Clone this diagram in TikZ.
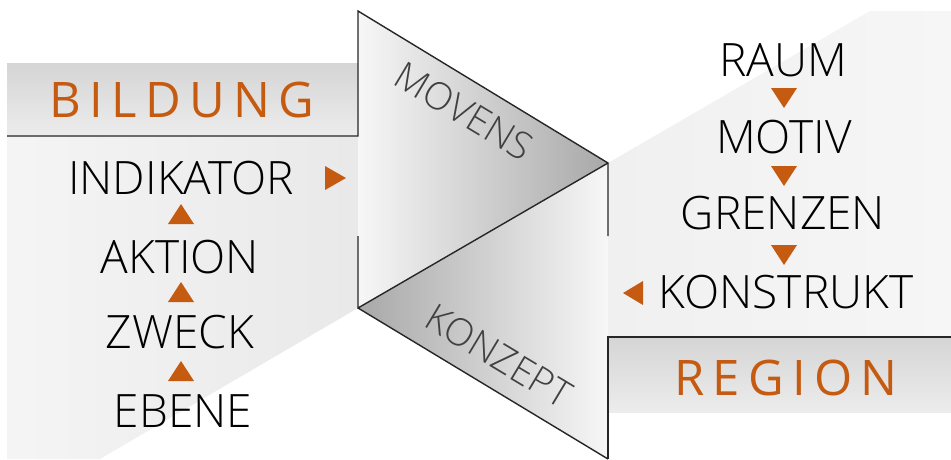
\documentclass[tikz,border=0pt]{standalone}
\usepackage{fontspec}
\setmainfont{Open Sans}
\newfontfamily\lightfont{Open Sans Light}
\newfontfamily\spacedfont[LetterSpace=17]{Open Sans}
\definecolor{accent}{HTML}{C55A11}
\definecolor{panel}{HTML}{F0F0F0}
\definecolor{headbg}{HTML}{E0E0E0}
\definecolor{facedark}{HTML}{A8A8A8}
\definecolor{facelight}{HTML}{F7F7F7}
\definecolor{labelgray}{HTML}{404040}
\begin{document}
\begin{tikzpicture}[x=1pt,y=-1pt,
  item/.style={inner sep=0pt, font=\lightfont\fontsize{46}{46}\selectfont, text=black},
  head/.style={inner sep=0pt, font=\spacedfont\fontsize{49}{49}\selectfont, text=accent},
  facelabel/.style={inner sep=0pt, font=\lightfont\fontsize{38}{38}\selectfont, text=labelgray},
  edge/.style={draw=black!85, line width=1.4pt, line join=miter},
  marker/.style={fill=accent}]
\useasboundingbox (0,0) rectangle (951,459);
% left panel
\shade[left color=panel!70!white, right color=panel!97!black]
  (7,63) -- (358,63) -- (358,308) -- (100,459) -- (7,459) -- cycle;
\shade[top color=headbg!95!black, bottom color=headbg!60!white] (7,63) rectangle (358,136);
% right panel
\shade[left color=panel, right color=panel!60!white]
  (608,163) -- (870,11) -- (951,11) -- (951,337) -- (608,337) -- cycle;
\shade[top color=headbg!95!black, bottom color=headbg!60!white] (608,337) rectangle (951,412);
% folded faces
\shade[left color=facelight, right color=facedark] (358,11) -- (608,163) -- (358,308) -- cycle;
\shade[left color=facedark, right color=facelight] (608,163) -- (608,459) -- (358,308) -- cycle;
% outlines
\draw[edge] (7,136) -- (358,136) -- (358,11) -- (608,163) -- (608,236);
\draw[edge] (358,236) -- (358,308) -- (608,163);
\draw[edge] (358,308) -- (608,459);
\draw[edge] (608,459) -- (608,337) -- (951,337);
% headers
\node[head] (bildung) at (182,100) {BILDUNG};
\node[head] (region) at (786,378) {REGION};
% face labels
\node[facelabel, rotate=-31] (movens) at (464,111) {MOVENS};
\node[facelabel, rotate=-31] (konzept) at (499,356) {KONZEPT};
% left list
\node[item] (indikator) at (181,178) {INDIKATOR};
\node[item] (aktion) at (180,257) {AKTION};
\node[item] (zweck) at (180,332) {ZWECK};
\node[item] (ebene) at (183,411) {EBENE};
% right list
\node[item] (raum) at (783,60) {RAUM};
\node[item] (motiv) at (784,137) {MOTIV};
\node[item] (grenzen) at (783,213) {GRENZEN};
\node[item] (konstrukt) at (786,292) {KONSTRUKT};
% markers
\fill[marker] (168,224) -- (194,224) -- (181,204) -- cycle;
\fill[marker] (168,302) -- (194,302) -- (181,282) -- cycle;
\fill[marker] (168,381) -- (194,381) -- (181,361) -- cycle;
\fill[marker] (325,166) -- (346,178) -- (325,190) -- cycle;
\fill[marker] (771,88) -- (797,88) -- (784,108) -- cycle;
\fill[marker] (771,166) -- (797,166) -- (784,186) -- cycle;
\fill[marker] (771,245) -- (797,245) -- (784,265) -- cycle;
\fill[marker] (643,281) -- (623,293) -- (643,305) -- cycle;
\end{tikzpicture}
\end{document}
